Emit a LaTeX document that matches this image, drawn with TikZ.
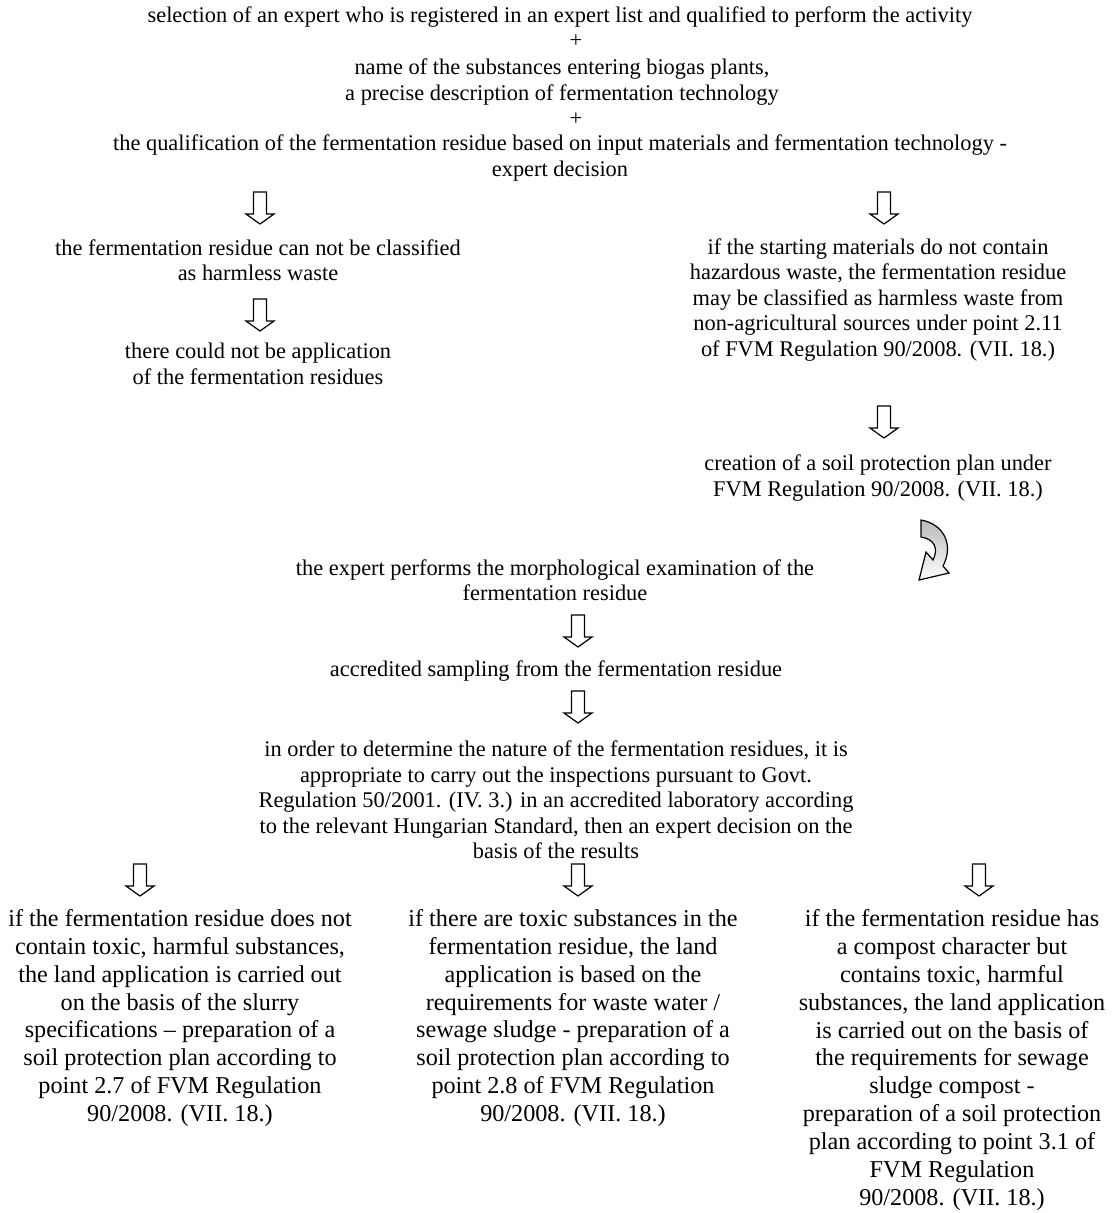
\documentclass[tikz,border=0pt]{standalone}
\usepackage{fontspec}
\setmainfont{Liberation Serif}
\usepackage{xcolor}

\tikzset{
  txt/.style={align=center, inner sep=0pt, font=\fontsize{22.4}{25.5}\selectfont},
  bigtxt/.style={align=center, inner sep=0pt, font=\fontsize{24.2}{27.9}\selectfont},
  downarr/.pic={\draw[line width=1.2pt, fill=white] (-6.5,-16) -- (6.5,-16) -- (6.5,6) -- (14,6) -- (0,16) -- (-14,6) -- (-6.5,6) -- cycle;}
}

\begin{document}
\begin{tikzpicture}[x=1pt,y=-1pt]
		\useasboundingbox (0,0) rectangle (1117,1213);

		%top block
		\node[txt] (sel) at (560,17) {selection of an expert who is registered in an expert list and qualified to perform the activity};
		\node[txt] (plusa) at (576,41) {+};
		\node[txt] (names) at (562,82) {name of the substances entering biogas plants,\\ a precise description of fermentation technology};
		\node[txt] (plusb) at (576,119) {+};
		\node[txt] (qual) at (560,158) {the qualification of the fermentation residue based on input materials and fermentation technology -\\ expert decision};

		%left branch
		\node[txt] (notharm) at (258,260) {the fermentation residue can not be classified\\ as harmless waste};
		\node[txt] (noapp) at (258,364) {there could not be application\\ of the fermentation residues};

		%right branch
		\node[txt] (harm) at (878,300) {if the starting materials do not contain\\ hazardous waste, the fermentation residue\\ may be classified as harmless waste from\\ non-agricultural sources under point 2.11\\ of FVM Regulation 90/2008. (VII. 18.)};
		\node[txt] (soilplan) at (878,478) {creation of a soil protection plan under\\ FVM Regulation 90/2008. (VII. 18.)};

		%middle column
		\node[txt] (morph) at (555,580) {the expert performs the morphological examination of the\\ fermentation residue};
		\node[txt] (sampl) at (556,671) {accredited sampling from the fermentation residue};
		\node[txt] (inspect) at (556,800) {in order to determine the nature of the fermentation residues, it is\\ appropriate to carry out the inspections pursuant to Govt.\\ Regulation 50/2001. (IV. 3.) in an accredited laboratory according\\ to the relevant Hungarian Standard, then an expert decision on the\\ basis of the results};

		%three outcomes
		\node[bigtxt] (slurry) at (180,1018) {if the fermentation residue does not\\ contain toxic, harmful substances,\\ the land application is carried out\\ on the basis of the slurry\\ specifications -- preparation of a\\ soil protection plan according to\\ point 2.7 of FVM Regulation\\ 90/2008. (VII. 18.)};
		\node[bigtxt] (sludge) at (573,1018) {if there are toxic substances in the\\ fermentation residue, the land\\ application is based on the\\ requirements for waste water /\\ sewage sludge - preparation of a\\ soil protection plan according to\\ point 2.8 of FVM Regulation\\ 90/2008. (VII. 18.)};
		\node[bigtxt] (compost) at (952,1060) {if the fermentation residue has\\ a compost character but\\ contains toxic, harmful\\ substances, the land application\\ is carried out on the basis of\\ the requirements for sewage\\ sludge compost -\\ preparation of a soil protection\\ plan according to point 3.1 of\\ FVM Regulation\\ 90/2008. (VII. 18.)};

		%hollow down arrows
		\foreach \x/\y in {260/208,884/208,260/315,884/422,578/631,578/707,140/880,578/880,979/880}
		\pic at (\x,\y) {downarr};

		%curved arrow back to the middle
		\shade[top color=gray!55, bottom color=white, draw=black, line width=1.2pt]
			(921,520) .. controls (944,524) and (954,545) .. (943,566)
			-- (949,573) -- (919,580) -- (926,552) -- (933,560)
			.. controls (939,548) and (934,539) .. (921,537) -- cycle;
			\end{tikzpicture}
\end{document}
